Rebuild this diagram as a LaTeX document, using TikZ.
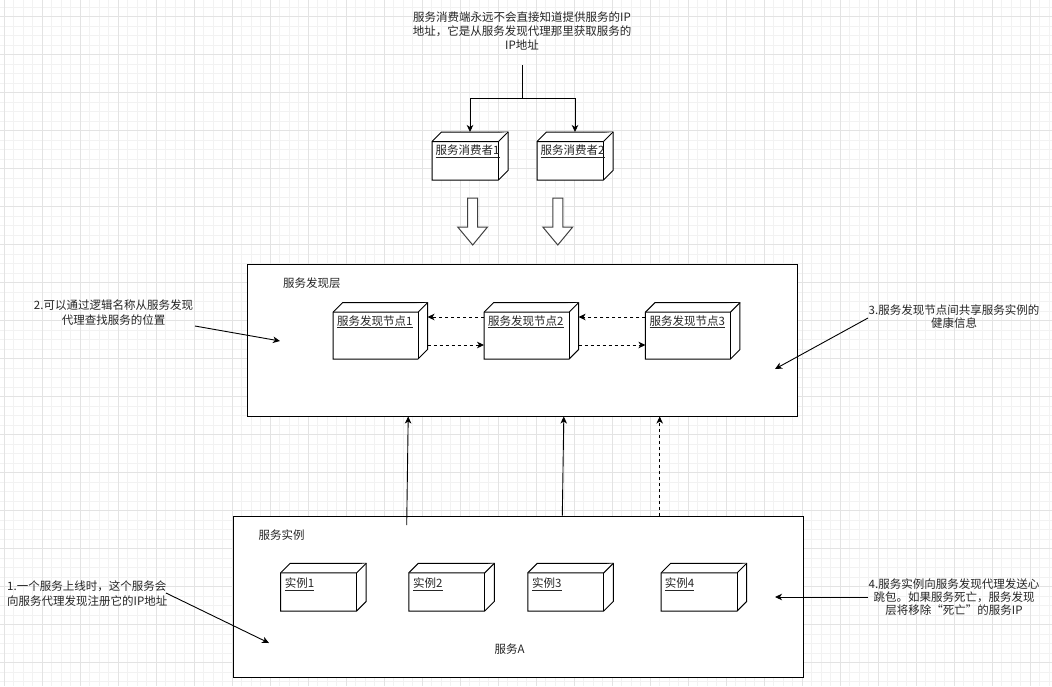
\documentclass[tikz,border=0pt]{standalone}
\usepackage{fontspec}
\setmainfont{Noto Sans CJK SC}
\usetikzlibrary{arrows.meta,calc}
\newlength{\bxd}
\setlength{\bxd}{9.5pt}
\newcommand{\drawcube}[1]{%
  \draw[boxline] ([yshift=-\bxd]#1.north west) -- ([xshift=\bxd]#1.north west) -- (#1.north east)
     -- ([yshift=\bxd]#1.south east) -- ([xshift=-\bxd]#1.south east) -- (#1.south west) -- cycle;
  \draw[boxline] ([yshift=-\bxd]#1.north west) -- ([shift={(-\bxd,-\bxd)}]#1.north east) -- (#1.north east);
  \draw[boxline] ([shift={(-\bxd,-\bxd)}]#1.north east) -- ([xshift=-\bxd]#1.south east);
}
\begin{document}
\begin{tikzpicture}[x=1pt,y=-1pt,
  txt/.style={font=\fontsize{11.5}{14}\selectfont, text=black!85, inner sep=0pt, align=center},
  boxline/.style={draw=black, line width=1pt, line join=miter, fill=white},
  frame/.style={draw=black, line width=1pt, fill=white, inner sep=0pt},
  box3d/.style={inner sep=0pt, outer sep=0pt},
  lbl/.style={txt, anchor=west},
  arr/.style={draw=black, line width=0.9pt, -{Stealth[length=7pt,width=6.5pt,inset=2pt]}},
  dasharr/.style={arr, dash pattern=on 3pt off 3pt},
  plain/.style={draw=black, line width=0.9pt},
  hollow/.style={draw=black!75, line width=1pt, fill=white, line join=miter},
  gridminor/.style={draw=black!5, line width=0.8pt},
  gridmajor/.style={draw=black!11, line width=0.8pt},
]
\useasboundingbox (0,0) rectangle (1052,686);
\fill[white] (0,0) rectangle (1052,686);
% grid
\foreach \i in {-1,...,110} \draw[gridminor] ({4.3+9.5*\i},0) -- ({4.3+9.5*\i},686);
\foreach \j in {-2,...,72} \draw[gridminor] (0,{16.7+9.5*\j}) -- (1052,{16.7+9.5*\j});
\foreach \i in {-1,...,28} \draw[gridmajor] ({4.3+38*\i},0) -- ({4.3+38*\i},686);
\foreach \j in {-1,...,18} \draw[gridmajor] (0,{16.7+38*\j}) -- (1052,{16.7+38*\j});

% top note
\node[txt, minimum height=68pt] (top) at (522,31) {服务消费端永远不会直接知道提供服务的IP\\地址，它是从服务发现代理那里获取服务的\\IP地址};

% consumers
\node[box3d, minimum width=76pt, minimum height=48pt] (c1) at (470,156) {};
\drawcube{c1}
\node[lbl] (c1t) at (435.5,151) {\underline{服务消费者1}};
\node[box3d, minimum width=76pt, minimum height=48pt] (c2) at (575,156) {};
\drawcube{c2}
\node[lbl] (c2t) at (540.5,151) {\underline{服务消费者2}};

\coordinate (split) at (522,98);
\draw[arr] (top.south) -- (split) -| (c1.north);
\draw[arr] (top.south) -- (split) -| (c2.north);

% hollow arrows
\draw[hollow] (467.7,198) -- (477.7,198) -- (477.7,227) -- (487.5,227) -- (472.7,245) -- (457.7,227) -- (467.7,227) -- cycle;
\draw[hollow] (552.8,198) -- (562.8,198) -- (562.8,227) -- (572.7,227) -- (557.8,245) -- (542.8,227) -- (552.8,227) -- cycle;

% discovery layer
\node[frame, minimum width=550pt, minimum height=152pt] (layer) at (522,340) {};
\node[lbl] (layert) at (283,283) {服务发现层};

\node[box3d, minimum width=94.5pt, minimum height=56.3pt] (n1) at (380.25,330.85) {};
\drawcube{n1}
\node[lbl] (n1t) at (337,321.7) {\underline{服务发现节点1}};
\node[box3d, minimum width=94.5pt, minimum height=56.3pt] (n2) at (531.3,330.85) {};
\drawcube{n2}
\node[lbl] (n2t) at (488,321.7) {\underline{服务发现节点2}};
\node[box3d, minimum width=94.5pt, minimum height=56.3pt] (n3) at (692.7,330.85) {};
\drawcube{n3}
\node[lbl] (n3t) at (649.4,321.7) {\underline{服务发现节点3}};

\draw[dasharr] (n2.west |- 0,317) -- (n1.east |- 0,317);
\draw[dasharr] (n1.east |- 0,345) -- (n2.west |- 0,345);
\draw[dasharr] (n3.west |- 0,317) -- (n2.east |- 0,317);
\draw[dasharr] (n2.east |- 0,345) -- (n3.west |- 0,345);

% instances
\node[frame, minimum width=570pt, minimum height=161pt] (inst) at (518,596.5) {};
\node[lbl] (instt) at (258.5,535) {服务实例};
\node[txt] (svc) at (509.6,649) {服务A};

\node[box3d, minimum width=85.5pt, minimum height=47.7pt] (i1) at (323.4,587.15) {};
\drawcube{i1}
\node[lbl] (i1t) at (284.7,584) {\underline{实例1}};
\node[box3d, minimum width=85.5pt, minimum height=47.7pt] (i2) at (451.5,587.15) {};
\drawcube{i2}
\node[lbl] (i2t) at (413,584) {\underline{实例2}};
\node[box3d, minimum width=85.5pt, minimum height=47.7pt] (i3) at (570.5,587.15) {};
\drawcube{i3}
\node[lbl] (i3t) at (532,584) {\underline{实例3}};
\node[box3d, minimum width=85.5pt, minimum height=47.7pt] (i4) at (703.9,587.15) {};
\drawcube{i4}
\node[lbl] (i4t) at (664.7,584) {\underline{实例4}};

% vertical arrows
\coordinate (v1s) at (406.7,525);
\draw[arr] (v1s) -- (layer.south -| 408.2,0);
\draw[arr] (inst.north -| 562.3,0) -- (layer.south -| 563.8,0);
\draw[dasharr] (inst.north -| 659.7,0) -- (layer.south -| 659.7,0);

% annotations
\node[txt, font=\fontsize{11.5}{15}\selectfont] (note2) at (113.5,312.5) {2.可以通过逻辑名称从服务发现\\代理查找服务的位置};
\coordinate (a2s) at (195,326);
\coordinate (a2e) at (280,341);
\draw[arr] (a2s) -- (a2e);

\node[txt, font=\fontsize{11.5}{13}\selectfont] (note3) at (954,317) {3.服务发现节点间共享服务实例的\\健康信息};
\coordinate (a3s) at (868,318);
\coordinate (a3e) at (775,369);
\draw[arr] (a3s) -- (a3e);

\node[txt, align=left, anchor=west, font=\fontsize{11.5}{14.7}\selectfont] (note1) at (7,593.3) {1.一个服务上线时，这个服务会\\向服务代理发现注册它的IP地址};
\coordinate (a1s) at (166,593);
\coordinate (a1e) at (269,643);
\draw[arr] (a1s) -- (a1e);

\node[txt, font=\fontsize{11.5}{13.3}\selectfont] (note4) at (954,597.3) {4.服务实例向服务发现代理发送心\\跳包。如果服务死亡，服务发现\\层将移除“死亡”的服务IP};
\coordinate (a4s) at (868,597);
\coordinate (a4e) at (775,597);
\draw[arr] (a4s) -- (a4e);
\end{tikzpicture}
\end{document}
